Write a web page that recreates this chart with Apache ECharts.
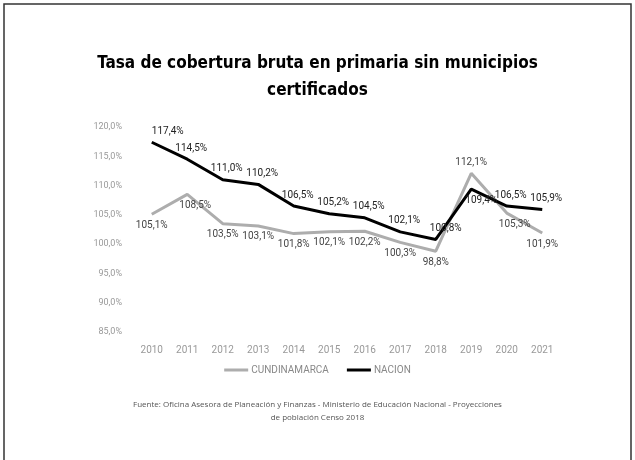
<!DOCTYPE html>
<html><head><meta charset="utf-8">
<script src="https://cdn.jsdelivr.net/npm/echarts@6/dist/echarts.min.js"></script>
<style>html,body{margin:0;padding:0;background:#fff}#c{width:635px;height:460px}</style>
</head><body><div id="c"></div>
<script>
const years = ['2010','2011','2012','2013','2014','2015','2016','2017','2018','2019','2020','2021'];
const cundinamarca = [105.1,108.5,103.5,103.1,101.8,102.1,102.2,100.3,98.8,112.1,105.3,101.9];
const nacion = [117.4,114.5,111.0,110.2,106.5,105.2,104.5,102.1,100.8,109.4,106.5,105.9];
const seriesNames = ['CUNDINAMARCA','NACION'];
const titleText = 'Tasa de cobertura bruta en primaria sin municipios\ncertificados';
const sourceText = 'Fuente: Oficina Asesora de Planeación y Finanzas - Ministerio de Educación Nacional - Proyecciones\nde población Censo 2018';

const fmt = v => v.toFixed(1).replace('.', ',') + '%';
const cundPos = cundinamarca.map((v,i) => i === 9 ? 'top' : 'bottom');
const nacPos = nacion.map((v,i) => i === 9 ? 'bottom' : 'top');
const cundOff = cundinamarca.map((v,i) => (i === 1 || i === 10) ? [8, 0] : [0, 0]);
const nacOff = nacion.map((v,i) => i === 0 ? [16, 0] : (i === 8 || i === 9) ? [10, 0] : [4, 0]);

const chart = echarts.init(document.getElementById('c'));
chart.setOption({
  animation: false,
  backgroundColor: '#fff',
  title: {
    text: titleText, left: 'center', top: 45,
    textStyle: {fontFamily: '"DejaVu Sans Condensed", "DejaVu Sans", sans-serif', fontWeight: 'bold', fontSize: 17, lineHeight: 27, color: '#000'}
  },
  graphic: [
    {type: 'rect', shape: {x: 4, y: 4, width: 627, height: 480}, style: {fill: 'none', stroke: '#333', lineWidth: 1.5}, silent: true},
    {type: 'text', left: 'center', top: 398, style: {text: sourceText, textAlign: 'center', font: '8px "Open Sans", sans-serif', fill: '#555', lineHeight: 13}}
  ],
  legend: {
    data: seriesNames, top: 360, left: 'center', itemGap: 18, itemWidth: 24, itemHeight: 3,
    icon: 'rect',
    textStyle: {color: '#888', fontSize: 10, fontFamily: 'Roboto, sans-serif', padding: [0,0,0,-2]}
  },
  grid: {left: 134, right: 75, top: 127, bottom: 128},
  xAxis: {
    type: 'category', data: years, boundaryGap: true,
    axisLine: {show: false}, axisTick: {show: false},
    axisLabel: {color: '#999', fontSize: 10, margin: 13, fontFamily: 'Roboto, sans-serif'}
  },
  yAxis: {
    type: 'value', min: 85, max: 120, interval: 5,
    splitLine: {show: false}, axisLine: {show: false}, axisTick: {show: false},
    axisLabel: {color: '#999', fontSize: 9, margin: 12, formatter: fmt, fontFamily: 'Roboto, sans-serif'}
  },
  series: [
    {
      name: seriesNames[0], type: 'line', z: 2,
      data: cundinamarca.map((v,i)=>({value: v, label: {position: cundPos[i], offset: cundOff[i]}})),
      symbol: 'circle', symbolSize: 0.01, showSymbol: true,
      lineStyle: {color: '#adadad', width: 3}, itemStyle: {color: '#adadad'},
      label: {show: true, formatter: p => fmt(p.value), color: '#444', fontSize: 10, fontFamily: 'Roboto, sans-serif', distance: 6}
    },
    {
      name: seriesNames[1], type: 'line', z: 3,
      data: nacion.map((v,i)=>({value: v, label: {position: nacPos[i], offset: nacOff[i]}})),
      symbol: 'circle', symbolSize: 0.01, showSymbol: true,
      lineStyle: {color: '#000', width: 3}, itemStyle: {color: '#000'},
      label: {show: true, formatter: p => fmt(p.value), color: '#222', fontSize: 10, fontFamily: 'Roboto, sans-serif', distance: 6}
    }
  ]
});
</script></body></html>
